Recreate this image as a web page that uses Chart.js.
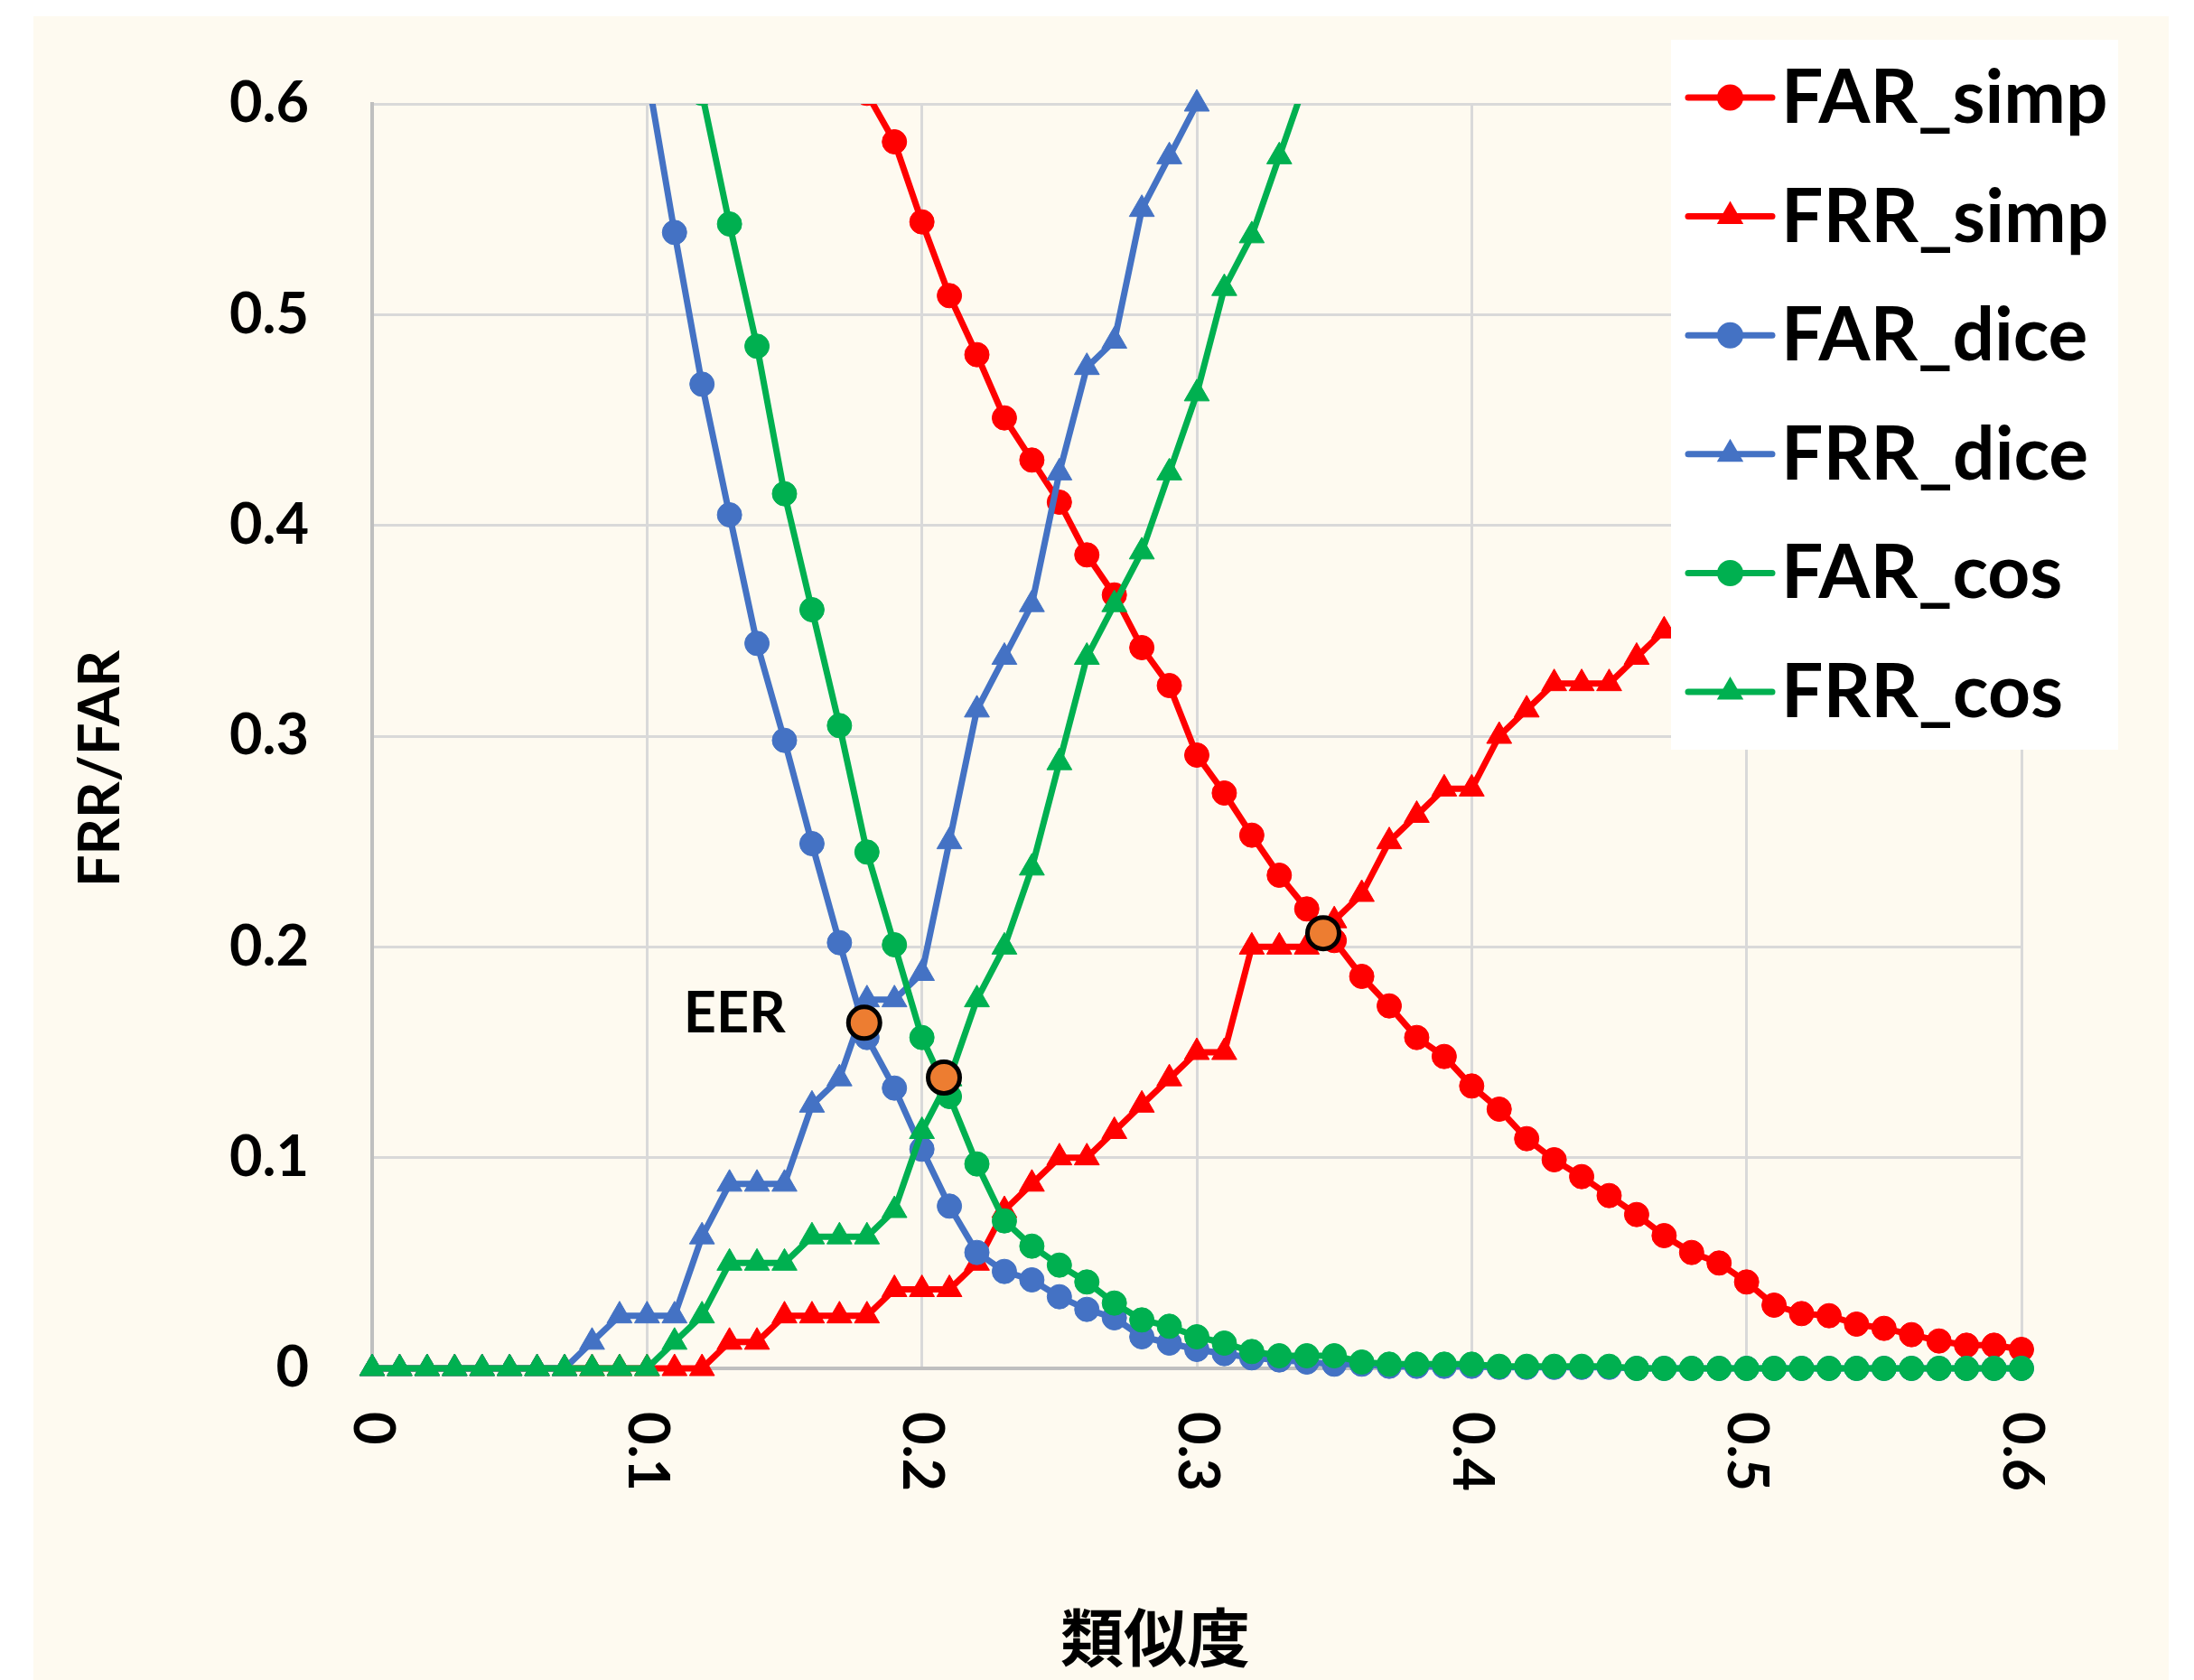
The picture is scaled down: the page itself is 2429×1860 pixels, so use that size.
<!DOCTYPE html>
<html lang="ja">
<head>
<meta charset="utf-8">
<title>FRR/FAR</title>
<script src="https://cdn.jsdelivr.net/npm/chart.js@4.4.1/dist/chart.umd.min.js"></script>
<style>
  html, body { margin: 0; padding: 0; background: #ffffff; }
  #chart { display: block; }
</style>
</head>
<body>
<canvas id="chart" width="2429" height="1860"></canvas>
<script>
// soglie di similarità (asse x)
const soglie = [
  0, 0.01, 0.02, 0.03, 0.04, 0.05, 0.06, 0.07, 0.08, 0.09,
  0.1, 0.11, 0.12, 0.13, 0.14, 0.15, 0.16, 0.17, 0.18, 0.19,
  0.2, 0.21, 0.22, 0.23, 0.24, 0.25, 0.26, 0.27, 0.28, 0.29,
  0.3, 0.31, 0.32, 0.33, 0.34, 0.35, 0.36, 0.37, 0.38, 0.39,
  0.4, 0.41, 0.42, 0.43, 0.44, 0.45, 0.46, 0.47, 0.48, 0.49,
  0.5, 0.51, 0.52, 0.53, 0.54, 0.55, 0.56, 0.57, 0.58, 0.59, 0.6
];

const farSimp = [
  null, null, null, null, null, null, null, null, null, null,
  null, null, null, null, null, null, null, null, 0.605, 0.582,
  0.544, 0.509, 0.481, 0.451, 0.431, 0.411, 0.386, 0.367, 0.342, 0.324,
  0.291, 0.273, 0.253, 0.234, 0.218, 0.203, 0.186, 0.172, 0.157, 0.148,
  0.134, 0.123, 0.109, 0.099, 0.091, 0.082, 0.073, 0.063, 0.055, 0.050,
  0.041, 0.030, 0.026, 0.025, 0.021, 0.019, 0.016, 0.013, 0.011, 0.011, 0.009
];

const frrSimp = [
  0, 0, 0, 0, 0, 0, 0, 0, 0, 0,
  0, 0, 0, 0.0125, 0.0125, 0.025, 0.025, 0.025, 0.025, 0.0375,
  0.0375, 0.0375, 0.05, 0.075, 0.0875, 0.1, 0.1, 0.1125, 0.125, 0.1375,
  0.15, 0.15, 0.2, 0.2, 0.2, 0.2125, 0.225, 0.25, 0.2625, 0.275,
  0.275, 0.3, 0.3125, 0.325, 0.325, 0.325, 0.3375, 0.35, null, null,
  null, null, null, null, null, null, null, null, null, null, null
];

const farDice = [
  null, null, null, null, null, null, null, null, null, null,
  0.615, 0.539, 0.467, 0.405, 0.344, 0.298, 0.249, 0.202, 0.157, 0.133,
  0.104, 0.077, 0.055, 0.046, 0.042, 0.034, 0.028, 0.024, 0.015, 0.012,
  0.009, 0.007, 0.005, 0.004, 0.003, 0.002, 0.002, 0.001, 0.001, 0.001,
  0.001, 0.0005, 0.0005, 0.0005, 0.0005, 0.0005, 0, 0, 0, 0,
  0, 0, 0, 0, 0, 0, 0, 0, 0, 0, 0
];

const frrDice = [
  0, 0, 0, 0, 0, 0, 0, 0, 0.0125, 0.025,
  0.025, 0.025, 0.0625, 0.0875, 0.0875, 0.0875, 0.125, 0.1375, 0.175, 0.175,
  0.1875, 0.25, 0.3125, 0.3375, 0.3625, 0.425, 0.475, 0.4875, 0.55, 0.575,
  0.6, null, null, null, null, null, null, null, null, null,
  null, null, null, null, null, null, null, null, null, null,
  null, null, null, null, null, null, null, null, null, null, null
];

const farCos = [
  null, null, null, null, null, null, null, null, null, null,
  null, null, 0.605, 0.543, 0.485, 0.415, 0.360, 0.305, 0.245, 0.201,
  0.157, 0.129, 0.097, 0.070, 0.058, 0.049, 0.041, 0.031, 0.023, 0.020,
  0.015, 0.012, 0.008, 0.006, 0.006, 0.006, 0.003, 0.002, 0.002, 0.002,
  0.002, 0.001, 0.001, 0.001, 0.001, 0.001, 0, 0, 0, 0,
  0, 0, 0, 0, 0, 0, 0, 0, 0, 0, 0
];

const frrCos = [
  0, 0, 0, 0, 0, 0, 0, 0, 0, 0,
  0, 0.0125, 0.025, 0.05, 0.05, 0.05, 0.0625, 0.0625, 0.0625, 0.075,
  0.1125, 0.1375, 0.175, 0.2, 0.2375, 0.2875, 0.3375, 0.3625, 0.3875, 0.425,
  0.4625, 0.5125, 0.5375, 0.575, 0.6125, null, null, null, null, null,
  null, null, null, null, null, null, null, null, null, null,
  null, null, null, null, null, null, null, null, null, null, null
];

// punti EER (incroci FAR/FRR)
const eerX = [0.179, 0.208, 0.346];
const eerY = [0.164, 0.138, 0.2065];

const xTickValues = [0, 0.1, 0.2, 0.3, 0.4, 0.5, 0.6];
const xTickLabels = ['0', '0.1', '0.2', '0.3', '0.4', '0.5', '0.6'];
const yTickLabels = ['0', '0.1', '0.2', '0.3', '0.4', '0.5', '0.6'];

const ROSSO = '#FF0000';
const BLU = '#4472C4';
const VERDE = '#00B050';
const ARANCIO = '#ED7D31';
const CREMA = '#FEFAF0';

const serie = [
  { nome: 'FAR_simp', valori: farSimp, colore: ROSSO, stile: 'circle' },
  { nome: 'FRR_simp', valori: frrSimp, colore: ROSSO, stile: 'triangle' },
  { nome: 'FAR_dice', valori: farDice, colore: BLU, stile: 'circle' },
  { nome: 'FRR_dice', valori: frrDice, colore: BLU, stile: 'triangle' },
  { nome: 'FAR_cos', valori: farCos, colore: VERDE, stile: 'circle' },
  { nome: 'FRR_cos', valori: frrCos, colore: VERDE, stile: 'triangle' }
];

function punti(valori) {
  return soglie.map((x, i) => ({ x: x, y: valori[i] }));
}

const datasets = serie.map((s, i) => ({
  label: s.nome,
  data: punti(s.valori),
  borderColor: s.colore,
  backgroundColor: s.colore,
  borderWidth: 7,
  borderJoinStyle: 'round',
  borderCapStyle: 'round',
  pointStyle: s.stile,
  pointRadius: s.stile === 'circle' ? 13.5 : 16,
  pointHoverRadius: s.stile === 'circle' ? 13.5 : 16,
  pointBackgroundColor: s.colore,
  pointBorderColor: s.colore,
  pointBorderWidth: 1,
  tension: 0,
  // le serie successive stanno sopra, come in Excel
  order: serie.length - i,
  clip: { left: 30, right: 30, bottom: 30, top: s.nome === 'FRR_dice' ? 30 : 0 }
}));

datasets.push({
  label: 'EER',
  data: eerX.map((x, i) => ({ x: x, y: eerY[i] })),
  showLine: false,
  pointStyle: 'circle',
  pointRadius: 17.5,
  pointHoverRadius: 17.5,
  pointBackgroundColor: ARANCIO,
  pointBorderColor: '#000000',
  pointBorderWidth: 5,
  order: -1,
  clip: false
});

// sfondo crema
const sfondo = {
  id: 'sfondo',
  beforeDraw(chart) {
    const ctx = chart.ctx;
    ctx.save();
    ctx.fillStyle = '#ffffff';
    ctx.fillRect(0, 0, chart.width, chart.height);
    ctx.fillStyle = CREMA;
    ctx.fillRect(37, 18, 2364, 1842);
    ctx.restore();
  }
};

function disegnaMarker(ctx, stile, x, y, r) {
  ctx.beginPath();
  if (stile === 'circle') {
    ctx.arc(x, y, r, 0, Math.PI * 2);
  } else {
    ctx.moveTo(x, y - r);
    ctx.lineTo(x + r * 0.866, y + r * 0.5);
    ctx.lineTo(x - r * 0.866, y + r * 0.5);
    ctx.closePath();
  }
  ctx.fill();
}

// etichette ruotate, titoli, legenda e scritta EER
const extra = {
  id: 'extra',
  afterDraw(chart) {
    const ctx = chart.ctx;
    const xs = chart.scales.x;
    ctx.save();
    ctx.fillStyle = '#000000';

    // etichette asse x, ruotate di 90 gradi
    ctx.font = 'bold 63px Lato';
    ctx.textAlign = 'left';
    ctx.textBaseline = 'middle';
    xTickValues.forEach((v, i) => {
      ctx.save();
      ctx.translate(xs.getPixelForValue(v), 1563);
      ctx.rotate(Math.PI / 2);
      ctx.fillText(xTickLabels[i], 0, 0);
      ctx.restore();
    });

    // titolo asse x
    ctx.font = 'bold 70px "Noto Sans CJK JP"';
    ctx.textAlign = 'center';
    ctx.fillText('類似度', 1279, 1813);

    // titolo asse y
    ctx.save();
    ctx.translate(112, 851);
    ctx.rotate(-Math.PI / 2);
    ctx.font = 'bold 63px Lato';
    ctx.fillText('FRR/FAR', 0, 0);
    ctx.restore();

    // scritta EER accanto al primo punto
    const p = chart.getDatasetMeta(serie.length).data[0];
    ctx.font = 'bold 63px Lato';
    ctx.textAlign = 'right';
    ctx.textBaseline = 'alphabetic';
    ctx.fillText('EER', p.x - 87, p.y + 11);

    // legenda
    ctx.fillStyle = '#ffffff';
    ctx.fillRect(1850, 44, 495, 786);
    serie.forEach((s, i) => {
      const y = 108 + i * 131.6;
      ctx.strokeStyle = s.colore;
      ctx.fillStyle = s.colore;
      ctx.lineWidth = 7;
      ctx.lineCap = 'round';
      ctx.beginPath();
      ctx.moveTo(1869, y);
      ctx.lineTo(1962, y);
      ctx.stroke();
      disegnaMarker(ctx, s.stile, 1915.5, y, s.stile === 'circle' ? 14.5 : 17);
      ctx.fillStyle = '#000000';
      ctx.font = 'bold 82px Lato';
      ctx.textAlign = 'left';
      ctx.fillText(s.nome, 1972, y + 28);
    });
    ctx.restore();
  }
};

function creaGrafico() {
  const ctx = document.getElementById('chart').getContext('2d');
  new Chart(ctx, {
    type: 'line',
    data: { datasets: datasets },
    options: {
      responsive: false,
      devicePixelRatio: 1,
      animation: false,
      events: [],
      layout: { padding: { left: 0, top: 115, right: 191, bottom: 0 } },
      plugins: {
        legend: { display: false },
        tooltip: { enabled: false }
      },
      scales: {
        x: {
          type: 'linear',
          min: 0,
          max: 0.6,
          ticks: { display: false, stepSize: 0.1 },
          grid: { color: '#D9D9D9', lineWidth: 3, drawTicks: false },
          border: { color: '#BFBFBF', width: 4 },
          afterFit(scale) { scale.height = 345; }
        },
        y: {
          type: 'linear',
          min: 0,
          max: 0.6,
          ticks: {
            stepSize: 0.1,
            padding: 70,
            color: '#000000',
            font: { family: 'Lato', weight: 'bold', size: 63 },
            callback: (v, i) => yTickLabels[i]
          },
          grid: { color: '#D9D9D9', lineWidth: 3, drawTicks: false },
          border: { color: '#BFBFBF', width: 4 },
          afterFit(scale) { scale.width = 412; }
        }
      }
    },
    plugins: [sfondo, extra]
  });
}

Promise.all([
  document.fonts.load('bold 63px Lato'),
  document.fonts.load('bold 70px "Noto Sans CJK JP"', '類似度')
]).then(creaGrafico, creaGrafico);
</script>
</body>
</html>
